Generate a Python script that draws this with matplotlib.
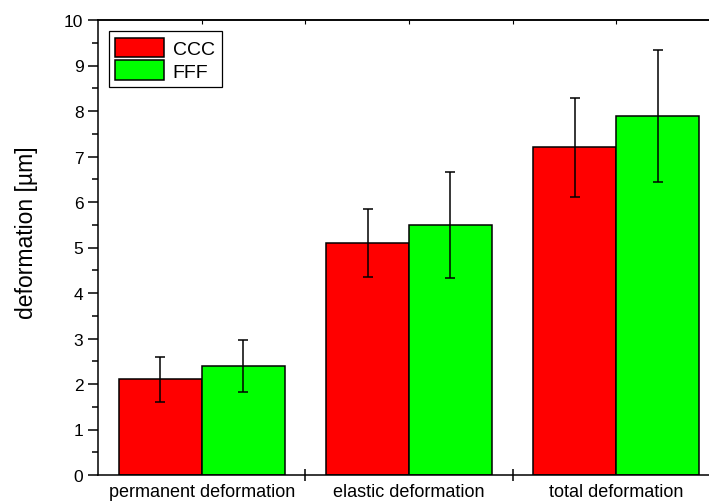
import numpy as np
import matplotlib
matplotlib.use("Agg")
import matplotlib.pyplot as plt
from matplotlib.ticker import MultipleLocator, FixedLocator, NullFormatter

plt.rcParams['font.family'] = ['Liberation Sans', 'DejaVu Sans']

# data
categories = ["permanent deformation", "elastic deformation", "total deformation"]
ccc_values = [2.1, 5.1, 7.2]
ccc_errors = [0.5, 0.75, 1.08]
fff_values = [2.4, 5.5, 7.9]
fff_errors = [0.57, 1.17, 1.45]

fig = plt.figure(figsize=(7.09, 5.02), dpi=100)
# axes runs past the right edge, like the cropped original
ax = fig.add_axes([98 / 709, 26 / 502, 622 / 709, 455 / 502])

x = np.arange(len(categories))
w = 0.4
err_style = dict(ecolor="black", capsize=3.4, elinewidth=1.1, capthick=1.1)
ax.bar(x - w / 2, ccc_values, w, yerr=ccc_errors, color="#ff0000",
       edgecolor="black", linewidth=1.1, label="CCC", error_kw=err_style)
ax.bar(x + w / 2, fff_values, w, yerr=fff_errors, color="#00ff00",
       edgecolor="black", linewidth=1.1, label="FFF", error_kw=err_style)

ax.set_xlim(-0.5, 2.5)
ax.set_ylim(0, 10)

ax.yaxis.set_major_locator(MultipleLocator(1))
ax.yaxis.set_minor_locator(MultipleLocator(0.5))
ax.tick_params(axis="y", which="major", direction="out", length=7, width=1.1, labelsize=12.5)
ax.tick_params(axis="y", which="minor", direction="out", length=4, width=1.1)

# category labels without ticks, separator ticks crossing the bottom spine
ax.set_xticks(x)
ax.set_xticklabels(categories, fontsize=13)
ax.xaxis.set_minor_locator(FixedLocator([0.5, 1.5]))
ax.tick_params(axis="x", which="major", length=0, pad=6)
ax.tick_params(axis="x", which="minor", direction="inout", length=8, width=1.1)

# small top ticks
sec = ax.secondary_xaxis("top")
sec.set_xticks([0, 0.5, 1, 1.5, 2])
sec.xaxis.set_major_formatter(NullFormatter())
sec.tick_params(direction="in", length=3, width=0.8)
sec.spines["top"].set_linewidth(1.1)

for s in ["left", "bottom", "top"]:
    ax.spines[s].set_linewidth(1.1)
ax.spines["right"].set_visible(False)

ax.set_ylabel("deformation [µm]", fontsize=16.5)
ax.yaxis.set_label_coords(-0.097, 0.535)

leg = ax.legend(loc="upper left", bbox_to_anchor=(0.017, 0.976), fontsize=14,
                fancybox=False, edgecolor="black", framealpha=1,
                handlelength=2.5, handleheight=1.15, handletextpad=0.45,
                borderpad=0.35, labelspacing=0.12, borderaxespad=0)
leg.get_frame().set_linewidth(0.9)

fig.savefig("out.png", dpi=100)
